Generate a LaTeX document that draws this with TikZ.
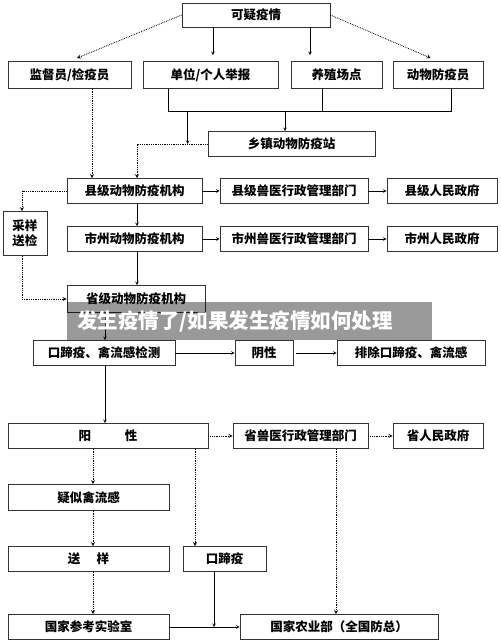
\documentclass[tikz,border=0pt]{standalone}
\usepackage{fontspec}
\newfontfamily\cjk{Noto Sans CJK SC}
\usetikzlibrary{arrows}
\newcommand{\boxfont}{\cjk\bfseries\fontsize{12.5pt}{15pt}\selectfont}
\newcommand{\markfont}{\cjk\bfseries\fontsize{20.5pt}{24pt}\selectfont}
\tikzstyle{block}=[rectangle,minimum height=25pt,inner sep=1pt,text centered,draw=black!80,line width=0.7pt,font=\boxfont]
\tikzstyle{arrow}=[line width=0.6pt,->,>=stealth]
\tikzstyle{dotarrow}=[line width=0.8pt,densely dotted,->,>=stealth]
\tikzstyle{line}=[line width=0.6pt]
\tikzstyle{banner}=[rectangle,fill=black,fill opacity=0.4,text opacity=1,text=white,font=\markfont,inner xsep=10pt,inner ysep=0pt,text width=345pt,align=left,minimum height=38pt]

\begin{document}
\begin{tikzpicture}[node distance=60pt]
            \path[fill=white,use as bounding box] (0,0) rectangle (500pt,-644pt);
            \node (yiyi)[block,minimum width=148pt,minimum height=24pt] at (256pt,-15pt){可疑疫情};
            \node (jiandu)[block,minimum width=123pt,minimum height=27pt,below of=yiyi,xshift=-186.5pt]{监督员/检疫员};
            \node (danwei)[block,minimum width=135pt,minimum height=27pt,below of=yiyi,xshift=-45.5pt]{单位/个人举报};
            \node (yangzhi)[block,minimum width=91pt,minimum height=27pt,below of=yiyi,xshift=80.5pt]{养殖场点};
            \node (fangyiyuan)[block,minimum width=90pt,minimum height=27pt,below of=yiyi,xshift=182pt]{动物防疫员};
            \node (xiangzhen)[block,minimum width=167pt,below of=yangzhi,xshift=-45pt,yshift=-9pt]{乡镇动物防疫站};
            \node (xianjigou)[block,minimum width=135pt,below of=xiangzhen,xshift=-157pt,yshift=13pt]{县级动物防疫机构};
            \node (xianshouyi)[block,minimum width=148pt,right of=xianjigou,xshift=99.5pt]{县级兽医行政管理部门};
            \node (xianzhengfu)[block,minimum width=110pt,right of=xianshouyi,xshift=88pt]{县级人民政府};
            \node (shijigou)[block,minimum width=135pt,below of=xianjigou,yshift=12pt]{市州动物防疫机构};
            \node (shishouyi)[block,minimum width=148pt,below of=xianshouyi,yshift=12pt]{市州兽医行政管理部门};
            \node (shizhengfu)[block,minimum width=110pt,below of=xianzhengfu,yshift=12pt]{市州人民政府};
            \node (caiyang)[block,minimum width=44pt,minimum height=44pt,align=center,below of=xianjigou,xshift=-109.5pt,yshift=17.5pt]{采样\\送检};
            \node (shengjigou)[block,minimum width=138pt,minimum height=27pt,below of=shijigou,xshift=1.5pt]{省级动物防疫机构};
            \node (jiance)[block,minimum width=142pt,below of=shengjigou,xshift=-32pt,yshift=6pt]{口蹄疫、禽流感检测};
            \node (yinxing)[block,minimum width=58pt,right of=jiance,xshift=100pt]{阴性};
            \node (paichu)[block,minimum width=148pt,right of=yinxing,xshift=87pt]{排除口蹄疫、禽流感};
            \node (yangxing)[block,minimum width=200pt,below of=jiance,xshift=4pt,yshift=-23pt]{阳\hspace{2.7em}性};
            \node (shengshouyi)[block,minimum width=135pt,right of=yangxing,xshift=132.5pt]{省兽医行政管理部门};
            \node (shengzhengfu)[block,minimum width=90pt,right of=shengshouyi,xshift=77.5pt]{省人民政府};
            \node (yisi)[block,minimum width=161pt,minimum height=26pt,below of=yangxing,xshift=-19.5pt,yshift=-1.5pt]{疑似禽流感};
            \node (songyang)[block,minimum width=161pt,below of=yisi,yshift=-1.5pt]{送\hspace{1.3em}样};
            \node (kouti)[block,minimum width=83pt,right of=songyang,xshift=76pt]{口蹄疫};
            \node (cankao)[block,minimum width=161pt,below of=songyang,yshift=-8pt]{国家参考实验室};
            \node (nongye)[block,minimum width=198pt,right of=cankao,xshift=190.5pt]{国家农业部（全国防总）};
            \coordinate (bus) at ([xshift=26pt,yshift=-22pt]danwei.south west);
            \draw [dotarrow,shorten >=8pt] (yiyi.west) -- (jiandu.north);
            \draw [dotarrow,shorten >=8pt] (yiyi.east) -- (fangyiyuan.north);
            \draw [arrow,shorten >=6pt] ([xshift=2.5pt]danwei.north |- yiyi.south) -- ([xshift=2.5pt]danwei.north);
            \draw [arrow,shorten >=6pt] ([xshift=-26.5pt]yangzhi.north |- yiyi.south) -- ([xshift=-26.5pt]yangzhi.north);
            \draw [line] ([xshift=26pt]danwei.south west) -- (bus) -| ([xshift=59pt]fangyiyuan.south west);
            \draw [line] ([xshift=32pt]yangzhi.south west) -- ([xshift=32pt]yangzhi.south west |- bus);
            \draw [arrow] ([xshift=-6.5pt]xiangzhen.north |- bus) -- ([xshift=-6.5pt]xiangzhen.north);
            \draw [arrow] ([xshift=19pt]bus) -- ([xshift=19pt]bus |- xiangzhen.west);
            \draw [dotarrow] (xiangzhen.west) -| ([xshift=2.5pt]xianjigou.north);
            \draw [dotarrow] ([xshift=22.5pt]jiandu.south) -- ([xshift=22.5pt]jiandu.south |- xianjigou.north);
            \draw [arrow] (xianjigou) -- (xianshouyi);
            \draw [arrow] (xianshouyi) -- (xianzhengfu);
            \draw [arrow] (shijigou) -- (shishouyi);
            \draw [arrow] (shishouyi) -- (shizhengfu);
            \draw [arrow] ([xshift=2.5pt]xianjigou.south) -- ([xshift=2.5pt]shijigou.north);
            \draw [arrow] ([xshift=2.5pt]shijigou.south) -- ([xshift=2.5pt]shijigou.south |- shengjigou.north);
            \draw [dotarrow] (xianjigou.west) -| ([xshift=-3pt]caiyang.north);
            \draw [dotarrow] ([xshift=-3pt]caiyang.south) |- (shengjigou.west);
            \draw [arrow] ([xshift=1pt]jiance.north |- shengjigou.south) -- ([xshift=1pt]jiance.north);
            \draw [arrow] (jiance) -- (yinxing);
            \draw [arrow,shorten <=3pt] (yinxing) -- (paichu);
            \draw [arrow] ([xshift=1pt]jiance.south) -- ([xshift=1pt]jiance.south |- yangxing.north);
            \draw [dotarrow] (yangxing) -- (shengshouyi);
            \draw [dotarrow] (shengshouyi) -- (shengzhengfu);
            \draw [dotarrow] ([xshift=4.5pt]yisi.north |- yangxing.south) -- ([xshift=4.5pt]yisi.north);
            \draw [dotarrow] ([xshift=4.5pt]yisi.south) -- ([xshift=4.5pt]songyang.north);
            \draw [dotarrow] ([xshift=4.5pt]songyang.south) -- ([xshift=4.5pt]cankao.north);
            \draw [dotarrow] ([xshift=-29.5pt]kouti.north |- yangxing.south) -- ([xshift=-29.5pt]kouti.north);
            \draw [arrow] ([xshift=-10.5pt]kouti.south) -- ([xshift=-10.5pt]kouti.south |- cankao.east);
            \draw [arrow] (cankao) -- (nongye);
            \draw [dotarrow] ([xshift=35.5pt]shengshouyi.south) -- ([xshift=35.5pt]shengshouyi.south |- nongye.north);
            \node (mark)[banner,anchor=north west] at (67pt,-302pt){发生疫情了/如果发生疫情如何处理};
        \end{tikzpicture}
\end{document}
